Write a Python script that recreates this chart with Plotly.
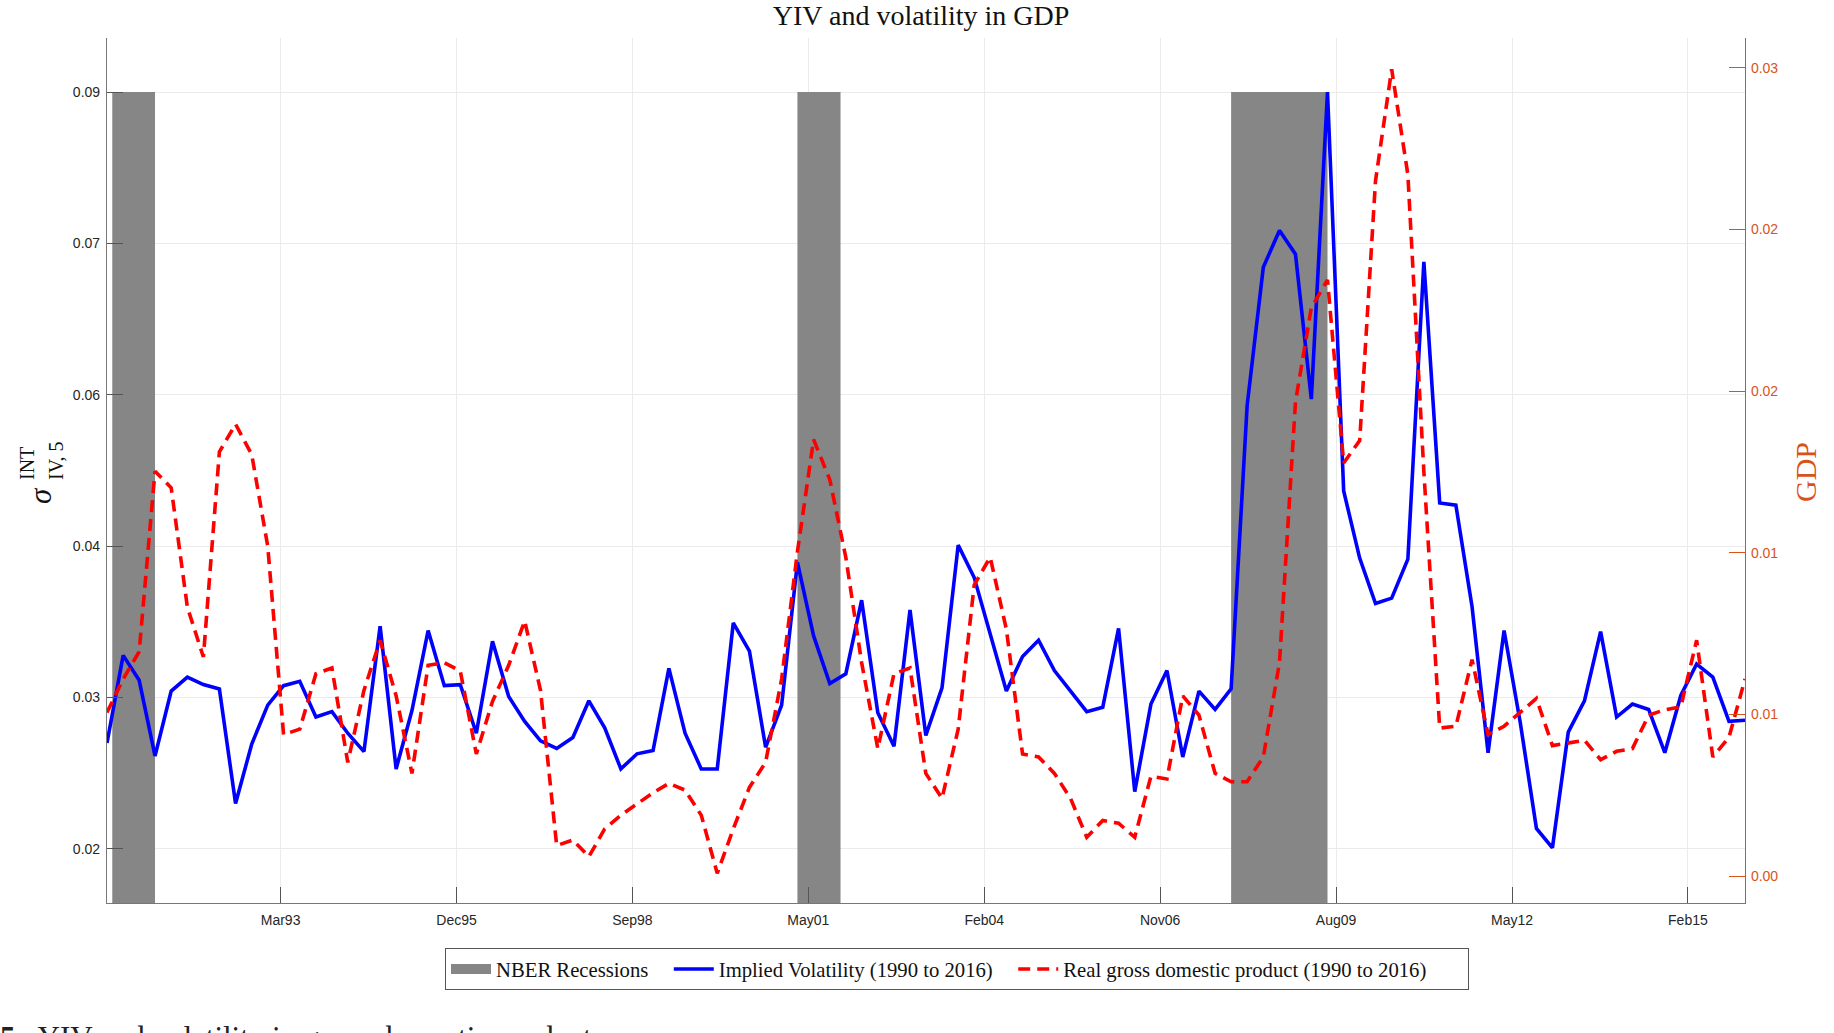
import plotly.graph_objects as go
import pandas as pd

# ---------------- data ----------------
dates = pd.date_range("1990-06-01", periods=103, freq="3MS")

implied_vol = [
    0.0298, 0.0379, 0.0356, 0.0286, 0.0346, 0.0359, 0.0352, 0.0348, 0.0242, 0.0297,
    0.0333, 0.0351, 0.0355, 0.0322, 0.0327, 0.0307, 0.0290, 0.0406, 0.0274, 0.0328,
    0.0402, 0.0351, 0.0352, 0.0307, 0.0392, 0.0341, 0.0318, 0.0300, 0.0293, 0.0303,
    0.0337, 0.0312, 0.0274, 0.0288, 0.0291, 0.0367, 0.0307, 0.0274, 0.0274, 0.0409,
    0.0383, 0.0294, 0.0333, 0.0465, 0.0397, 0.0353, 0.0362, 0.0430, 0.0326, 0.0295,
    0.0421, 0.0305, 0.0349, 0.0481, 0.0451, 0.0399, 0.0346, 0.0378, 0.0393, 0.0365,
    0.0346, 0.0327, 0.0331, 0.0404, 0.0253, 0.0334, 0.0365, 0.0285, 0.0346, 0.0329,
    0.0348, 0.0610, 0.0738, 0.0772, 0.0750, 0.0616, 0.0900, 0.0531, 0.0469, 0.0427,
    0.0432, 0.0468, 0.0743, 0.0520, 0.0518, 0.0424, 0.0289, 0.0402, 0.0317, 0.0219,
    0.0201, 0.0308, 0.0337, 0.0401, 0.0322, 0.0334, 0.0329, 0.0289, 0.0342, 0.0371,
    0.0359, 0.0318, 0.0319,
]

real_gdp = [
    0.00607, 0.00731, 0.00833, 0.01502, 0.01441, 0.00998, 0.00813, 0.01574, 0.01677, 0.01564,
    0.01224, 0.00525, 0.00545, 0.00751, 0.00772, 0.00422, 0.00689, 0.00875, 0.00669, 0.00381,
    0.00782, 0.00792, 0.00761, 0.00453, 0.00648, 0.00782, 0.00947, 0.00689, 0.00113, 0.00134,
    0.00072, 0.00175, 0.00226, 0.00268, 0.00309, 0.00344, 0.00319, 0.00226, 0.00010, 0.00175,
    0.00329, 0.00422, 0.00731, 0.01204, 0.01620, 0.01471, 0.01183, 0.00792, 0.00473, 0.00751,
    0.00772, 0.00381, 0.00288, 0.00545, 0.01080, 0.01183, 0.00916, 0.00453, 0.00442, 0.00381,
    0.00288, 0.00144, 0.00206, 0.00196, 0.00144, 0.00370, 0.00360, 0.00669, 0.00597, 0.00381,
    0.00350, 0.00350, 0.00442, 0.00792, 0.01760, 0.02109, 0.02212, 0.01533, 0.01616, 0.02580,
    0.02994, 0.02603, 0.01500, 0.00549, 0.00556, 0.00803, 0.00525, 0.00556, 0.00607, 0.00659,
    0.00484, 0.00494, 0.00504, 0.00432, 0.00463, 0.00473, 0.00597, 0.00617, 0.00628, 0.00875,
    0.00442, 0.00515, 0.00731,
]

recession_start = ["1990-07-01", "2001-03-01", "2007-12-01"]
recession_end = ["1991-03-01", "2001-11-01", "2009-06-01"]
recession_low = 0.015
recession_high = 0.09

series_names = [
    "NBER Recessions",
    "Implied Volatility (1990 to 2016)",
    "Real gross domestic product (1990 to 2016)",
]

left_tick_vals = [0.02, 0.034, 0.048, 0.062, 0.076, 0.09]
left_tick_text = ["0.02", "0.03", "0.04", "0.06", "0.07", "0.09"]
right_tick_vals = [0.0, 0.006, 0.012, 0.018, 0.024, 0.03]
right_tick_text = ["0.00", "0.01", "0.01", "0.02", "0.02", "0.03"]
x_tick_text = ["Mar93", "Dec95", "Sep98", "May01", "Feb04", "Nov06", "Aug09", "May12", "Feb15"]

# evenly spaced date ticks (as in MATLAB datetick)
tick_first = pd.Timestamp("1993-02-12")
tick_step_days = 1000.3
x_tick_vals = [tick_first + pd.Timedelta(days=tick_step_days * k) for k in range(len(x_tick_text))]

SERIF = "Liberation Serif, Times New Roman, serif"
SANS = "Liberation Sans, Arial, Helvetica, sans-serif"
ORANGE = "#D95319"
GRAY = "#868686"
NB = "\u00a0"  # legend spacing

fig = go.Figure()

for s, e in zip(recession_start, recession_end):
    fig.add_trace(go.Scatter(
        x=[s, s, e, e, s],
        y=[recession_low, recession_high, recession_high, recession_low, recession_low],
        mode="lines", fill="toself", fillcolor=GRAY,
        line=dict(width=0, color=GRAY),
        legendgroup="rec", showlegend=False,
        hoverinfo="skip", yaxis="y",
    ))

# legend entry for the recession shading
fig.add_trace(go.Scatter(
    x=[None], y=[None], mode="lines",
    line=dict(color=GRAY, width=20),
    name=series_names[0] + NB * 3, legendgroup="rec", yaxis="y",
))

fig.add_trace(go.Scatter(
    x=dates, y=implied_vol, mode="lines",
    line=dict(color="#0000FF", width=3.6),
    name=series_names[1] + NB * 3, yaxis="y",
))

fig.add_trace(go.Scatter(
    x=dates, y=real_gdp, mode="lines",
    line=dict(color="#FF0000", width=3.6, dash="12px,7px"),
    name=series_names[2] + NB * 7, yaxis="y2",
))

W, H = 1834, 1033
L, R, T, B = 107, 89, 38, 130
pw, ph = W - L - R, H - T - B

def px_x(px):
    return (px - L) / pw

def px_y(py):
    return (H - B - py) / ph

fig.update_layout(
    width=W, height=H,
    margin=dict(l=L, r=R, t=T, b=B, pad=0),
    paper_bgcolor="white", plot_bgcolor="white",
    title=dict(text="YIV and volatility in GDP", x=921 / W, xanchor="center",
               y=1 - 15.5 / H, yanchor="middle",
               font=dict(family=SERIF, size=28, color="#111111")),
    xaxis=dict(
        type="date", range=[dates[0], dates[-1]],
        tickmode="array", tickvals=x_tick_vals, ticktext=x_tick_text,
        ticks="inside", ticklen=16, tickwidth=1, tickcolor="#555555",
        ticklabelstandoff=4,
        showline=True, linecolor="#777777", linewidth=1.2,
        showgrid=True, gridcolor="#ebebeb", gridwidth=1,
        zeroline=False,
        tickfont=dict(family=SANS, size=14, color="#262626"),
    ),
    yaxis=dict(
        range=[0.015, 0.095],
        tickmode="array", tickvals=left_tick_vals, ticktext=left_tick_text,
        ticks="inside", ticklen=16, tickwidth=1, tickcolor="#555555",
        ticklabelstandoff=3,
        showline=True, linecolor="#777777", linewidth=1.2,
        showgrid=True, gridcolor="#ebebeb", gridwidth=1,
        zeroline=False,
        tickfont=dict(family=SANS, size=14, color="#262626"),
    ),
    yaxis2=dict(
        overlaying="y", side="right", anchor="x",
        range=[-0.001, 0.0311],
        tickmode="array", tickvals=right_tick_vals, ticktext=right_tick_text,
        ticks="inside", ticklen=16, tickwidth=1, tickcolor=ORANGE,
        ticklabelstandoff=2,
        showline=True, linecolor=ORANGE, linewidth=1.2,
        showgrid=False, zeroline=False,
        tickfont=dict(family=SANS, size=14, color=ORANGE),
    ),
    legend=dict(
        orientation="h", x=px_x(445), xanchor="left", y=px_y(948), yanchor="top",
        bgcolor="white", bordercolor="#555555", borderwidth=1,
        font=dict(family=SERIF, size=20.7, color="#111111"),
        itemwidth=40, tracegroupgap=0, traceorder="normal",
    ),
    showlegend=True,
)

# left axis label: sigma with stacked super/subscripts (rotated)
fig.add_annotation(text="<i>σ</i>", xref="paper", yref="paper", x=px_x(40), y=px_y(496),
                   xanchor="center", yanchor="middle", textangle=-90, showarrow=False,
                   font=dict(family=SERIF, size=31, color="#111111"))
fig.add_annotation(text="INT", xref="paper", yref="paper", x=px_x(27), y=px_y(464),
                   xanchor="center", yanchor="middle", textangle=-90, showarrow=False,
                   font=dict(family=SERIF, size=20, color="#111111"))
fig.add_annotation(text="IV, 5", xref="paper", yref="paper", x=px_x(56), y=px_y(461),
                   xanchor="center", yanchor="middle", textangle=-90, showarrow=False,
                   font=dict(family=SERIF, size=20, color="#111111"))

# right axis label
fig.add_annotation(text="GDP", xref="paper", yref="paper", x=px_x(1805), y=px_y(472),
                   xanchor="center", yanchor="middle", textangle=-90, showarrow=False,
                   font=dict(family=SERIF, size=30, color=ORANGE))

# figure caption (partly cut at the bottom of the page, as in the source)
fig.add_annotation(text="<b>5</b>   YIV and volatility in gross domestic product",
                   xref="paper", yref="paper", x=px_x(-2), y=px_y(1018),
                   xanchor="left", yanchor="top", showarrow=False,
                   font=dict(family=SERIF, size=31, color="#222222"))

fig.write_html("out.html")
